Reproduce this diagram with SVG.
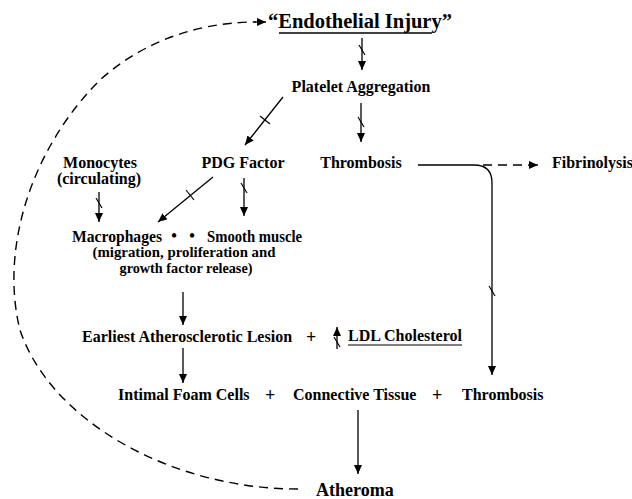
<svg xmlns="http://www.w3.org/2000/svg" width="632" height="499" viewBox="0 0 632 499">
<defs>
<marker id="ah" markerUnits="userSpaceOnUse" markerWidth="10" markerHeight="8" refX="9" refY="4" orient="auto">
<path d="M0,0 L9,4 L0,8 Z" fill="#000"/>
</marker>
<style>
text{font-family:"Liberation Serif","Times New Roman",serif;font-weight:bold;fill:#000;}
.n{font-size:16px;}
.s{font-size:14.5px;}
.c{text-anchor:middle;}
.ln{stroke:#000;stroke-width:1.3;fill:none;}
.ar{stroke:#000;stroke-width:1.3;fill:none;marker-end:url(#ah);}
.da{stroke:#000;stroke-width:1.4;fill:none;stroke-dasharray:9 6;}
.tk{stroke:#000;stroke-width:1.2;fill:none;}
</style>
</defs>
<rect width="632" height="499" fill="#fff"/>
<g id="connectors">
<path class="da" d="M298,489 C170,489 50,420 20,330 C0,250 30,150 100,80 C150,35 210,22 256,22"/>
<path class="ar" d="M255,22 L266,22"/>
<path class="ar" d="M362,38 L362,70"/>
<path class="tk" d="M359,45 L365,55"/>
<path class="ar" d="M283,97 L245,145"/>
<path class="tk" d="M260,116 L270,124"/>
<path class="ar" d="M361,103 L361,142"/>
<path class="tk" d="M358,117 L364,127"/>
<path class="ar" d="M99,192 L99,222"/>
<path class="tk" d="M96,198 L102,208"/>
<path class="ar" d="M213,177 L158,222"/>
<path class="tk" d="M186,190 L194,200"/>
<path class="ar" d="M244,178 L244,216"/>
<path class="tk" d="M241,183 L247,193"/>
<path class="ar" d="M183,292 L183,325"/>
<path class="ar" d="M183,348 L183,383"/>
<path class="ar" d="M337,349 L337,327"/>
<path class="tk" d="M334,337 L340,347"/>
<path class="ln" d="M418,165 L474,165 Q492,165 492,183 L492,372"/>
<path class="ar" d="M492,370 L492,375"/>
<path class="tk" d="M489,286 L495,296"/>
<path class="da" d="M483,165 L531,165"/>
<path class="ar" d="M530,165 L538,165"/>
<path class="ar" d="M358,410 L358,474"/>
</g>
<g id="endothelial"><text x="268" y="28" style="font-size:20.5px">“Endothelial Injury”</text><line x1="279" y1="33" x2="432" y2="33" stroke="#000" stroke-width="1.3"/></g>
<g id="platelet"><text class="n c" x="361" y="92">Platelet Aggregation</text></g>
<g id="monocytes"><text class="n c" x="100" y="168">Monocytes</text><text class="n c" x="99" y="184">(circulating)</text></g>
<g id="pdg"><text class="n c" x="243" y="168">PDG Factor</text></g>
<g id="thrombosis1"><text class="n c" x="361" y="168">Thrombosis</text></g>
<g id="fibrinolysis"><text class="n" x="552" y="168">Fibrinolysis</text></g>
<g id="macrophages"><text class="n" x="72" y="242" textLength="90" lengthAdjust="spacingAndGlyphs">Macrophages</text><text class="n c" x="174" y="241">•</text><text class="n c" x="192" y="241">•</text></g>
<g id="smoothmuscle"><text class="n" x="207" y="242" textLength="95" lengthAdjust="spacingAndGlyphs">Smooth muscle</text><text class="s c" x="184" y="257" textLength="183" lengthAdjust="spacingAndGlyphs">(migration, proliferation and</text><text class="s c" x="186" y="273" textLength="133" lengthAdjust="spacingAndGlyphs">growth factor release)</text></g>
<g id="earliest"><text class="n" x="82" y="342">Earliest Atherosclerotic Lesion</text><text class="n" x="306" y="343" style="font-size:18px">+</text></g>
<g id="ldl"><text class="n" x="348" y="341" textLength="114" lengthAdjust="spacingAndGlyphs">LDL Cholesterol</text><line x1="348" y1="345" x2="462" y2="345" stroke="#000" stroke-width="1.2"/></g>
<g id="intimal"><text class="n" x="118" y="400">Intimal Foam Cells</text><text class="n" x="265" y="401" style="font-size:18px">+</text></g>
<g id="connective"><text class="n" x="293" y="400">Connective Tissue</text><text class="n" x="432" y="401" style="font-size:18px">+</text></g>
<g id="thrombosis2"><text class="n" x="462" y="400">Thrombosis</text></g>
<g id="atheroma"><text x="316" y="496" style="font-size:18px">Atheroma</text></g>
</svg>
